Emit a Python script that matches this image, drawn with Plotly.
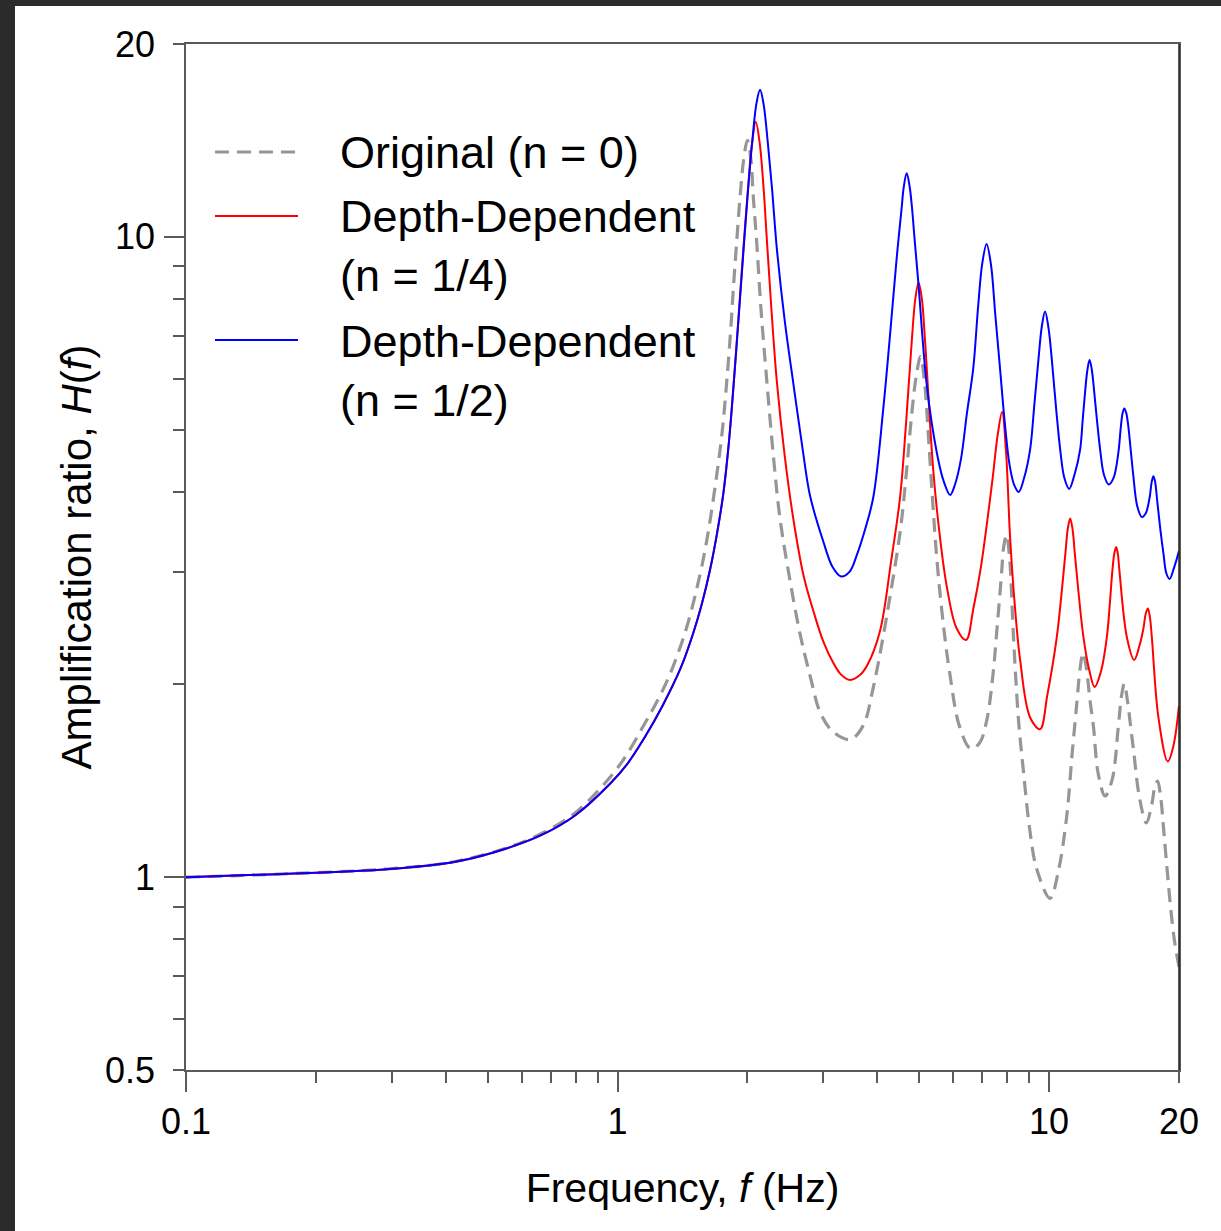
import math
import plotly.graph_objects as go

# ---------------- data ----------------
freq_orig = [0.1, 0.168, 0.292, 0.421, 0.555, 0.667, 0.80, 0.963, 1.056, 1.158, 1.222,
             1.30, 1.372, 1.45, 1.553, 1.62, 1.698, 1.75, 1.791, 1.83, 1.855, 1.89, 1.922,
             1.96, 1.999, 2.035, 2.064, 2.102, 2.15, 2.218, 2.30, 2.38, 2.5, 2.648, 2.8,
             2.946, 3.15, 3.458, 3.7, 3.915, 4.357, 4.55, 4.68, 4.8, 4.92, 5.037, 5.15,
             5.207, 5.3, 5.492, 5.7, 5.897, 6.2, 6.58, 6.9, 7.17, 7.4, 7.566, 7.75, 7.86,
             7.97, 8.1, 8.27, 8.5, 8.72, 9.0, 9.365, 10.05, 10.5, 10.99, 11.3, 11.59, 11.8,
             11.99, 12.2, 12.45, 12.67, 13.0, 13.48, 14.0, 14.47, 14.72, 14.94, 15.2,
             15.45, 15.68, 16.2, 16.80, 17.3, 17.6, 17.84, 18.1, 18.5, 19.10, 19.5, 20.0]
amp_orig = [1.0, 1.012, 1.03, 1.058, 1.112, 1.17, 1.262, 1.435, 1.563, 1.741, 1.857,
            2.02, 2.21, 2.47, 2.97, 3.44, 4.25, 5.0, 5.95, 7.2, 8.3, 9.9, 11.51,
            13.2, 14.15, 13.3, 11.51, 9.755, 7.7, 5.947, 4.5, 3.625, 2.95, 2.398, 2.05,
            1.811, 1.69, 1.641, 1.72, 1.98, 2.95, 3.6, 4.35, 5.25, 6.05, 6.5, 5.9,
            5.35, 4.45, 3.15, 2.45, 2.064, 1.72, 1.588, 1.62, 1.758, 2.05, 2.424, 2.95, 3.3,
            3.422, 3.15, 2.371, 1.75, 1.465, 1.2, 1.029, 0.927, 1.02, 1.247, 1.55, 1.864, 2.12,
            2.239, 2.12, 1.88, 1.72, 1.45, 1.339, 1.42, 1.72, 1.92, 2.006, 1.88,
            1.72, 1.587, 1.33, 1.216, 1.3, 1.39, 1.413, 1.35, 1.15, 0.905, 0.8, 0.725]

freq_quarter = [0.1, 0.168, 0.292, 0.421, 0.555, 0.667, 0.80, 0.963, 1.056, 1.158, 1.268,
                1.40, 1.496, 1.57, 1.638, 1.70, 1.759, 1.81, 1.855, 1.91, 1.957, 2.0,
                2.045, 2.091, 2.135, 2.18, 2.218, 2.27, 2.339, 2.44, 2.555, 2.7, 2.843,
                3.0, 3.163, 3.3, 3.458, 3.65, 3.8, 4.057, 4.3, 4.516, 4.65, 4.806, 4.9,
                4.984, 5.07, 5.159, 5.393, 5.6, 5.793, 6.1, 6.423, 6.675, 6.95, 7.17, 7.4,
                7.6, 7.782, 7.95, 8.12, 8.35, 8.567, 9.036, 9.531, 9.9, 10.42, 10.89, 11.05,
                11.19, 11.33, 11.49, 12.01, 12.4, 12.75, 13.2, 13.61, 14.02, 14.16, 14.30,
                14.43, 14.55, 15.14, 15.74, 16.2, 16.55, 16.75, 16.94, 17.12, 17.30, 17.92,
                18.84, 19.4, 20.0]
amp_quarter = [1.0, 1.012, 1.029, 1.057, 1.110, 1.164, 1.251, 1.402, 1.506, 1.657, 1.846,
               2.12, 2.40, 2.68, 3.02, 3.44, 3.98, 4.75, 5.8, 7.6, 9.6, 11.6,
               13.8, 15.11, 14.0, 11.9, 9.9, 7.8, 5.95, 4.55, 3.625, 2.95, 2.604,
               2.33, 2.16, 2.07, 2.032, 2.07, 2.15, 2.424, 3.1, 3.925, 5.0, 6.876, 8.02,
               8.484, 8.02, 6.876, 4.3, 3.35, 2.845, 2.45, 2.347, 2.626, 3.05, 3.55, 4.2,
               4.9, 5.326, 4.6, 3.4, 2.6, 2.187, 1.776, 1.703, 1.92, 2.372, 3.164, 3.5,
               3.632, 3.5, 3.164, 2.372, 2.1, 1.982, 2.1, 2.372, 3.016, 3.2, 3.279,
               3.2, 3.016, 2.372, 2.184, 2.3, 2.45, 2.58, 2.628, 2.55, 2.372, 1.776,
               1.516, 1.6, 1.851]

freq_half = [0.1, 0.168, 0.292, 0.421, 0.555, 0.667, 0.80, 0.963, 1.056, 1.158, 1.268,
             1.40, 1.496, 1.57, 1.638, 1.70, 1.759, 1.81, 1.855, 1.91, 1.957, 2.0, 2.05,
             2.1, 2.139, 2.18, 2.23, 2.28, 2.339, 2.44, 2.555, 2.68, 2.793, 2.999, 3.15,
             3.296, 3.45, 3.584, 3.75, 3.915, 4.13, 4.357, 4.45, 4.556, 4.6, 4.677, 4.75,
             4.806, 4.88, 4.978, 5.207, 5.492, 5.7, 5.897, 6.05, 6.25, 6.45, 6.67, 6.85,
             7.0, 7.164, 7.33, 7.5, 7.698, 7.9, 8.1, 8.3, 8.503, 8.75, 9.036, 9.25, 9.444,
             9.62, 9.788, 9.97, 10.15, 10.38, 10.61, 10.85, 11.13, 11.45, 11.80, 11.97,
             12.12, 12.27, 12.41, 12.56, 12.72, 12.9, 13.13, 13.4, 13.74, 14.1, 14.47,
             14.66, 14.8, 14.94, 15.1, 15.27, 15.48, 15.68, 16.0, 16.40, 16.75, 17.08,
             17.3, 17.45, 17.6, 17.82, 18.1, 18.41, 18.7, 19.02, 19.5, 20.0]
amp_half = [1.0, 1.012, 1.029, 1.057, 1.110, 1.164, 1.251, 1.402, 1.506, 1.657, 1.846,
            2.12, 2.40, 2.68, 3.02, 3.44, 3.98, 4.75, 5.8, 7.55, 9.45, 11.5, 14.0,
            16.2, 16.96, 16.1, 14.0, 11.9, 9.6, 7.4, 5.9, 4.7, 3.94, 3.34, 3.05,
            2.948, 3.0, 3.183, 3.5, 3.923, 5.405, 8.075, 9.5, 11.13, 11.9, 12.57, 12.0,
            11.2, 9.9, 8.472, 5.86, 4.605, 4.15, 3.953, 4.1, 4.5, 5.3, 6.218, 7.8,
            9.08, 9.745, 9.07, 7.6, 6.218, 5.1, 4.4, 4.1, 3.996, 4.2, 4.653, 5.5, 6.412,
            7.25, 7.645, 7.2, 6.412, 5.4, 4.653, 4.2, 4.039, 4.25, 4.653, 5.2,
            5.733, 6.2, 6.423, 6.2, 5.733, 5.2, 4.653, 4.25, 4.105, 4.2, 4.6,
            5.041, 5.3, 5.394, 5.3, 5.041, 4.6, 4.226, 3.8, 3.651, 3.7, 3.9,
            4.15, 4.226, 4.15, 3.85, 3.5, 3.2, 2.98, 2.922, 3.05, 3.231]

series_names = ["Original (n = 0)", "Depth-Dependent<br>(n = 1/4)", "Depth-Dependent<br>(n = 1/2)"]
x_major_ticks = [0.1, 1, 10, 20]
x_major_labels = ["0.1", "1", "10", "20"]
x_long_ticks = [0.1, 1, 10]
x_minor_ticks = [0.2, 0.3, 0.4, 0.5, 0.6, 0.7, 0.8, 0.9, 2, 3, 4, 5, 6, 7, 8, 9]
y_major_ticks = [0.5, 1, 10, 20]
y_major_labels = ["0.5", "1", "10", "20"]
y_long_ticks = [1, 10]
y_minor_ticks = [0.6, 0.7, 0.8, 0.9, 2, 3, 4, 5, 6, 7, 8, 9]
x_range = [0.1, 20]
y_range = [0.5, 20]

# ---------------- styling ----------------
FONT = "Liberation Sans, Arial, Helvetica, sans-serif"
GRAY = "rgb(150,150,150)"
RED = "#ff0000"
BLUE = "#0000ff"
AXC = "#5a5a5a"
W, H = 1221, 1231
ML, MR, MT, MB = 186, 42, 44, 161
PW, PH = W - ML - MR, H - MT - MB

def px_x(p):
    return (p - ML) / PW

def px_y(p):
    return (H - MB - p) / PH

fig = go.Figure()
fig.add_trace(go.Scatter(x=freq_orig, y=amp_orig, mode="lines", name=series_names[0],
                         line=dict(color=GRAY, width=3.2, dash="14px,8px", shape="spline", smoothing=1.0)))
fig.add_trace(go.Scatter(x=freq_quarter, y=amp_quarter, mode="lines", name=series_names[1],
                         line=dict(color=RED, width=2, shape="spline", smoothing=1.0)))
fig.add_trace(go.Scatter(x=freq_half, y=amp_half, mode="lines", name=series_names[2],
                         line=dict(color=BLUE, width=2, shape="spline", smoothing=1.0)))
# invisible helper so the overlay axes (long major ticks) get drawn
fig.add_trace(go.Scatter(x=[1], y=[1], xaxis="x2", yaxis="y2", mode="markers",
                         marker=dict(opacity=0), hoverinfo="skip", showlegend=False))

xr = [math.log10(v) for v in x_range]
yr = [math.log10(v) for v in y_range]

fig.update_layout(
    width=W, height=H,
    margin=dict(l=ML, r=MR, t=MT, b=MB),
    paper_bgcolor="white", plot_bgcolor="white",
    showlegend=False,
    font=dict(family=FONT, color="black"),
    xaxis=dict(type="log", range=xr, tickvals=x_major_ticks, ticktext=x_major_labels,
               ticks="outside", ticklen=11, tickwidth=1.5, tickcolor=AXC,
               showline=True, linecolor=AXC, linewidth=1.5, mirror=True,
               showgrid=False, zeroline=False,
               tickfont=dict(size=36, family=FONT, color="black"), ticklabelstandoff=8,
               minor=dict(tickvals=x_minor_ticks, ticks="outside", ticklen=11,
                          tickwidth=1.5, tickcolor=AXC, showgrid=False),
               title=dict(text="Frequency, <i>f</i> (Hz)", font=dict(size=41, family=FONT),
                          standoff=32)),
    yaxis=dict(type="log", range=yr, tickvals=y_major_ticks, ticktext=y_major_labels,
               ticks="outside", ticklen=11, tickwidth=1.5, tickcolor=AXC,
               showline=True, linecolor=AXC, linewidth=1.5, mirror=True,
               showgrid=False, zeroline=False,
               tickfont=dict(size=36, family=FONT, color="black"), ticklabelstandoff=11,
               minor=dict(tickvals=y_minor_ticks, ticks="outside", ticklen=11,
                          tickwidth=1.5, tickcolor=AXC, showgrid=False),
               title=dict(text="Amplification ratio, <i>H</i>(<i>f</i>)",
                          font=dict(size=42, family=FONT), standoff=0)),
    xaxis2=dict(type="log", range=xr, overlaying="x", anchor="y", side="bottom",
                tickvals=x_long_ticks, ticks="outside", ticklen=21, tickwidth=1.5,
                tickcolor=AXC, showticklabels=False, showline=False, showgrid=False,
                zeroline=False),
    yaxis2=dict(type="log", range=yr, overlaying="y", anchor="x", side="left",
                tickvals=y_long_ticks, ticks="outside", ticklen=21, tickwidth=1.5,
                tickcolor=AXC, showticklabels=False, showline=False, showgrid=False,
                zeroline=False),
)

# right frame edge (darker in the reference)
fig.add_shape(type="line", xref="paper", yref="paper", x0=1, x1=1, y0=0, y1=1,
              line=dict(color="#222222", width=1.5))

# dark screenshot frame on the top and left edges
fig.add_shape(type="rect", xref="paper", yref="paper", x0=px_x(0), x1=px_x(W), y0=px_y(6), y1=px_y(0),
              line=dict(width=0), fillcolor="#2b2b2b", layer="above")
fig.add_shape(type="rect", xref="paper", yref="paper", x0=px_x(0), x1=px_x(15), y0=px_y(H), y1=px_y(0),
              line=dict(width=0), fillcolor="#2b2b2b", layer="above")

# legend drawn manually (long sample lines as in the reference)
legend_rows = [
    (series_names[0], GRAY, "14px,8px", 3.2, 152, 152),
    (series_names[1], RED, "solid", 2, 216, 246.5),
    (series_names[2], BLUE, "solid", 2, 340, 371),
]
for text, col, dash, wd, ly, ty in legend_rows:
    fig.add_shape(type="line", xref="paper", yref="paper",
                  x0=px_x(215), x1=px_x(298), y0=px_y(ly), y1=px_y(ly),
                  line=dict(color=col, width=wd, dash=dash))
    fig.add_annotation(xref="paper", yref="paper", x=px_x(338), y=px_y(ty),
                       xanchor="left", yanchor="middle", showarrow=False, align="left",
                       text=text, font=dict(size=45, family=FONT, color="black"))

fig.write_html("out.html", config={"displayModeBar": False},
               post_script="document.body.style.margin='0px';")
